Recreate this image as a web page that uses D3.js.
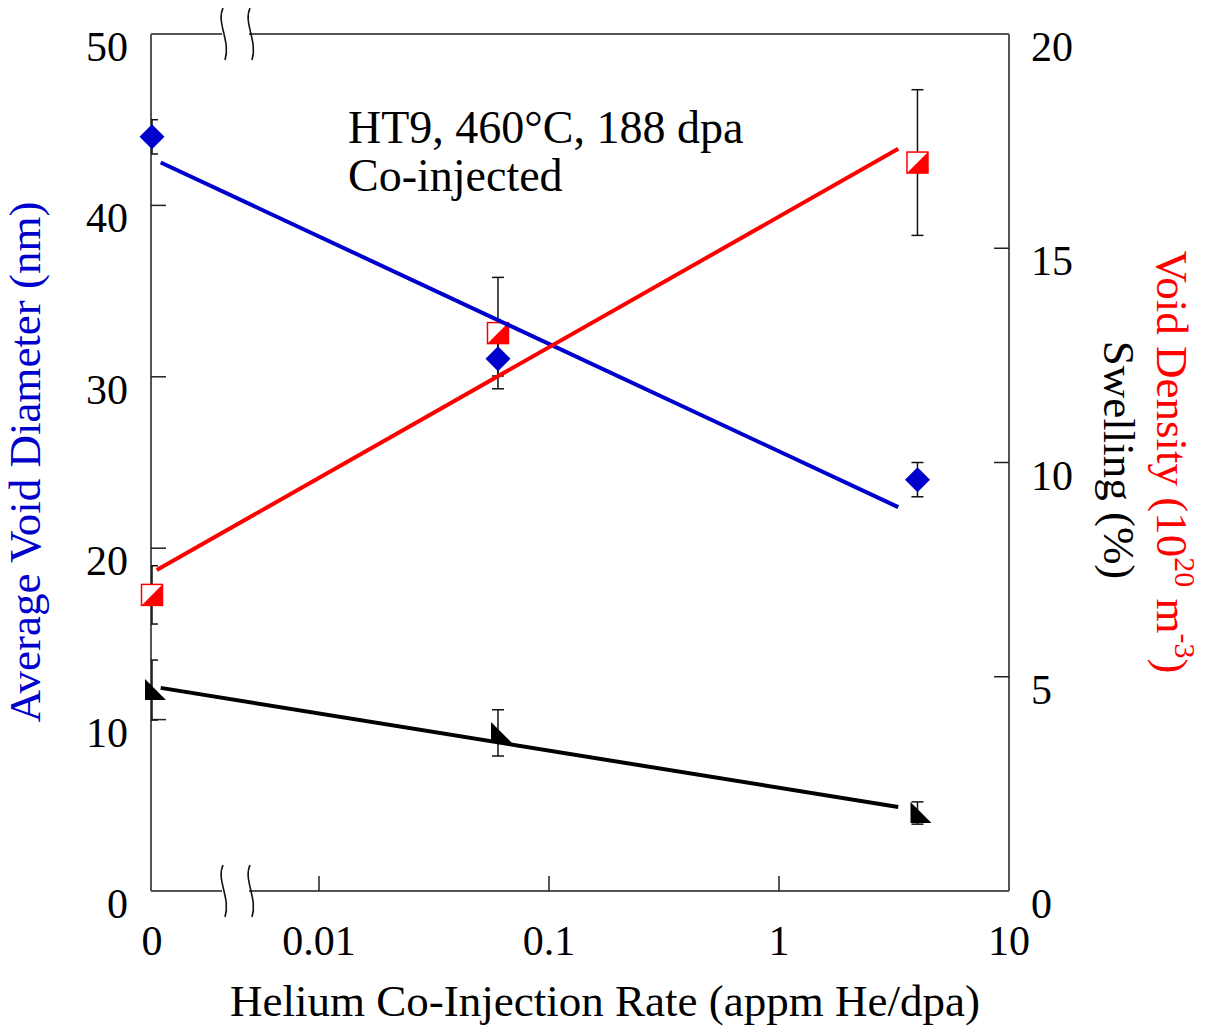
<!DOCTYPE html>
<html>
<head>
<meta charset="utf-8">
<script src="https://cdn.jsdelivr.net/npm/d3@7"></script>
<style>
  html, body { margin: 0; padding: 0; background: #fff; }
  svg { display: block; }
  text { font-family: "Liberation Serif", "Times New Roman", serif; }
</style>
</head>
<body>
<svg id="chart" width="1211" height="1033"></svg>
<script>
// Helium co-injection rate (appm He/dpa); 0 sits on the left edge of the broken axis
const rates = [0, 0.06, 4];

// Average void diameter (nm), left axis
const diameter = [44.0, 31.05, 24.0];
const diameterErr = [1.0, 1.0, 1.0];

// Void density (10^20 m^-3), right axis
const density = [6.91, 13.02, 17.0];
const densityErr = [0.68, 1.3, 1.7];

// Swelling (%), right axis
const swelling = [4.69, 3.69, 1.82];
const swellingErr = [0.7, 0.54, 0.26];

// Trend lines: [rate, value] end points
const diameterFit = [[0.00205, 42.5], [3.3, 22.4]];
const densityFit = [[0.00197, 7.49], [3.3, 17.32]];
const swellingFit = [[0.00205, 4.74], [3.3, 1.96]];

// Axis ticks
const xTicks = [0.01, 0.1, 1, 10];
const xTickLabels = ["0.01", "0.1", "1", "10"];
const leftTicks = [0, 10, 20, 30, 40, 50];
const rightTicks = [0, 5, 10, 15, 20];

// Annotation lines
const noteLines = ["HT9, 460°C, 188 dpa", "Co-injected"];

const svg = d3.select("#chart");
const L = 151, R = 1009, T = 34, B = 891;
const xMin = Math.pow(10, 1 - (R - L) / 230);   // left edge of the log axis

const x = d3.scaleLog().domain([xMin, 10]).range([L, R]);
const xp = v => v === 0 ? x(xMin) + 1 : x(v);
const yL = d3.scaleLinear().domain([0, 50]).range([B, T]);
const yR = d3.scaleLinear().domain([0, 20]).range([B, T]);

const BLUE = "#0000cc", RED = "#ff0000", BLACK = "#000000", FRAME = "#555555";
const tickFont = 42, titleFont = 45;

// clip region for error bars
svg.append("defs").append("clipPath").attr("id", "plotClip")
  .append("rect").attr("x", L).attr("y", T).attr("width", R - L).attr("height", B - T);

// ---- frame with axis breaks ----
const frame = svg.append("g").attr("stroke", FRAME).attr("stroke-width", 2).attr("fill", "none");
const b1 = L + 71, b2 = L + 98;
frame.append("line").attr("x1", L).attr("y1", T).attr("x2", L).attr("y2", B);
frame.append("line").attr("x1", R).attr("y1", T).attr("x2", R).attr("y2", B);
[T, B].forEach(yy => {
  frame.append("line").attr("x1", L).attr("y1", yy).attr("x2", b1).attr("y2", yy);
  frame.append("line").attr("x1", b2).attr("y1", yy).attr("x2", R).attr("y2", yy);
  [b1, b2].forEach(bx => {
    svg.append("path")
      .attr("d", `M${bx + 1},${yy - 26} C${bx - 6},${yy - 11} ${bx + 9},${yy + 7} ${bx + 3},${yy + 26}`)
      .attr("fill", "none").attr("stroke", "#111").attr("stroke-width", 1.6);
  });
});

// ---- ticks ----
const ticks = svg.append("g").attr("stroke", "#222").attr("stroke-width", 1.5);
leftTicks.filter(t => t > 0 && t < 50).forEach(t =>
  ticks.append("line").attr("x1", L).attr("x2", L + 15).attr("y1", yL(t)).attr("y2", yL(t)));
rightTicks.filter(t => t > 0 && t < 20).forEach(t =>
  ticks.append("line").attr("x1", R).attr("x2", R - 15).attr("y1", yR(t)).attr("y2", yR(t)));
xTicks.filter(t => t < 10).forEach(t =>
  ticks.append("line").attr("x1", x(t)).attr("x2", x(t)).attr("y1", B).attr("y2", B - 15));

// ---- tick labels ----
const lab = svg.append("g").attr("font-size", tickFont).attr("fill", "#000");
leftTicks.forEach(t => lab.append("text").attr("x", 128).attr("y", yL(t) + 27)
  .attr("text-anchor", "end").text(t));
rightTicks.forEach(t => lab.append("text").attr("x", 1031).attr("y", yR(t) + 27)
  .attr("text-anchor", "start").text(t));
lab.append("text").attr("x", x(xMin) + 1).attr("y", 955).attr("text-anchor", "middle").text("0");
xTicks.forEach((t, i) => lab.append("text").attr("x", x(t)).attr("y", 955)
  .attr("text-anchor", "middle").text(xTickLabels[i]));

// ---- axis titles ----
svg.append("text").attr("font-size", titleFont).attr("text-anchor", "middle")
  .attr("x", 605).attr("y", 1016).text("Helium Co-Injection Rate (appm He/dpa)");

svg.append("text").attr("font-size", titleFont).attr("text-anchor", "middle").attr("fill", BLUE)
  .attr("transform", "translate(40,462) rotate(-90)").text("Average Void Diameter (nm)");

svg.append("text").attr("font-size", titleFont).attr("text-anchor", "middle").attr("fill", BLACK)
  .attr("transform", "translate(1104,460) rotate(90)").text("Swelling (%)");

const dens = svg.append("text").attr("font-size", titleFont).attr("text-anchor", "middle").attr("fill", RED)
  .attr("transform", "translate(1157,462) rotate(90)");
dens.append("tspan").text("Void Density (10");
dens.append("tspan").attr("font-size", 30).attr("dy", -18).text("20");
dens.append("tspan").attr("dy", 18).text(" m");
dens.append("tspan").attr("font-size", 30).attr("dy", -18).text("-3");
dens.append("tspan").attr("dy", 18).text(")");

// ---- annotation ----
noteLines.forEach((s, i) =>
  svg.append("text").attr("font-size", 46).attr("fill", "#000")
    .attr("x", 348).attr("y", 143 + i * 48).text(s));

// ---- error bars ----
const eb = svg.append("g").attr("clip-path", "url(#plotClip)")
  .attr("stroke", "#111").attr("stroke-width", 1.5);
function errorBars(vals, errs, y) {
  rates.forEach((r, i) => {
    const cx = xp(r), lo = y(vals[i] - errs[i]), hi = y(vals[i] + errs[i]);
    eb.append("line").attr("x1", cx).attr("x2", cx).attr("y1", lo).attr("y2", hi);
    [lo, hi].forEach(yy => eb.append("line").attr("x1", cx - 6).attr("x2", cx + 6)
      .attr("y1", yy).attr("y2", yy));
  });
}
errorBars(diameter, diameterErr, yL);
errorBars(density, densityErr, yR);
errorBars(swelling, swellingErr, yR);

// ---- markers ----
const mk = svg.append("g");
// swelling: black right triangle
rates.forEach((r, i) => {
  const cx = xp(r), cy = yR(swelling[i]);
  mk.append("path").attr("d", `M${cx - 7},${cy - 11} L${cx - 7},${cy + 10} L${cx + 14},${cy + 10} Z`)
    .attr("fill", BLACK);
});
// void density: half-filled red square
rates.forEach((r, i) => {
  const cx = xp(r), cy = yR(density[i]), h = 10.5;
  mk.append("rect").attr("x", cx - h).attr("y", cy - h).attr("width", 2 * h).attr("height", 2 * h)
    .attr("fill", "#fff").attr("stroke", RED).attr("stroke-width", 1.5);
  mk.append("path").attr("d", `M${cx - h},${cy + h} L${cx + h},${cy - h} L${cx + h},${cy + h} Z`)
    .attr("fill", RED);
});
// void diameter: blue diamond
rates.forEach((r, i) => {
  const cx = xp(r), cy = yL(diameter[i]);
  mk.append("path").attr("d", `M${cx},${cy - 12.5} L${cx + 12.5},${cy} L${cx},${cy + 12.5} L${cx - 12.5},${cy} Z`)
    .attr("fill", BLUE);
});

// ---- trend lines ----
function fitLine(pts, y, color) {
  svg.append("path").datum(pts)
    .attr("d", d3.line().x(d => x(d[0])).y(d => y(d[1])))
    .attr("fill", "none").attr("stroke", color).attr("stroke-width", 4);
}
fitLine(diameterFit, yL, BLUE);
fitLine(densityFit, yR, RED);
fitLine(swellingFit, yR, BLACK);
</script>
</body>
</html>
